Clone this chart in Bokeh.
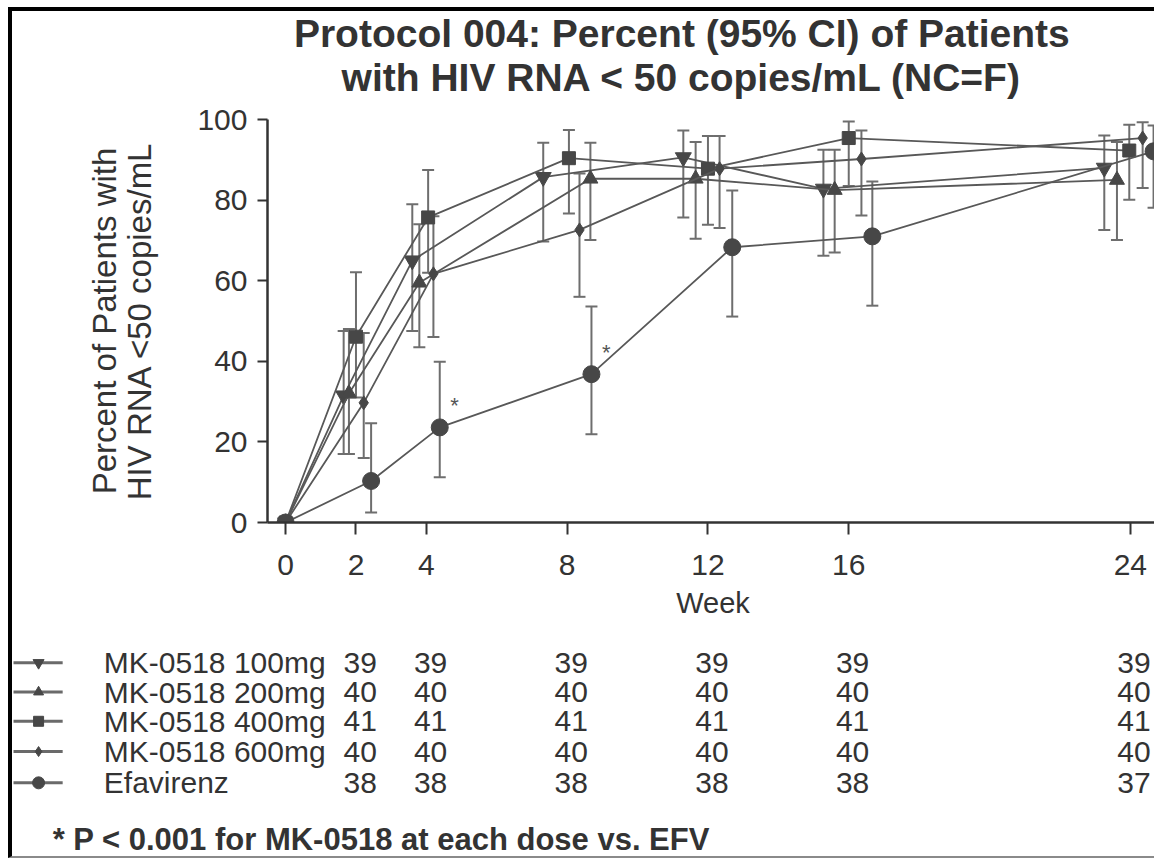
from bokeh.plotting import figure
from bokeh.layouts import column
from bokeh.models import (Range1d, ColumnDataSource, Whisker, TeeHead, Label, FixedTicker)
from bokeh.core.properties import value
from bokeh.embed import file_html
from bokeh.resources import INLINE

# ---------------- data ----------------
weeks = [0, 2, 4, 8, 12, 16, 24]
names = ["MK-0518 100mg", "MK-0518 200mg", "MK-0518 400mg", "MK-0518 600mg", "Efavirenz"]

pct_100 = [0, 31.5, 65.0, 85.7, 90.6, 82.8, 88.0]
lo_100 = [0, 17.0, 47.5, 69.7, 75.7, 66.2, 72.6]
hi_100 = [0, 47.5, 79.0, 94.2, 97.3, 92.5, 96.0]

pct_200 = [0, 32.0, 59.5, 85.3, 85.3, 82.5, 85.0]
lo_200 = [0, 17.0, 43.5, 70.1, 70.4, 67.0, 70.1]
hi_200 = [0, 48.0, 74.0, 94.2, 94.4, 92.5, 94.4]

pct_400 = [0, 46.1, 75.7, 90.4, 87.8, 95.4, 92.3]
lo_400 = [0, 31.0, 62.0, 76.7, 73.9, 83.5, 80.1]
hi_400 = [0, 62.1, 87.5, 97.4, 95.9, 99.5, 98.7]

pct_600 = [0, 29.7, 61.7, 72.6, 87.8, 90.2, 95.4]
lo_600 = [0, 16.0, 46.0, 56.0, 73.1, 76.2, 83.0]
hi_600 = [0, 47.0, 76.0, 86.6, 95.9, 97.3, 99.3]

pct_efv = [0, 10.3, 23.6, 36.8, 68.3, 71.0, 92.1]
lo_efv = [0, 2.5, 11.2, 21.9, 51.1, 53.8, 78.1]
hi_efv = [0, 24.6, 39.9, 53.6, 82.4, 84.6, 98.5]

count_weeks = [2, 4, 8, 12, 16, 24]
n_100 = [39, 39, 39, 39, 39, 39]
n_200 = [40, 40, 40, 40, 40, 40]
n_400 = [41, 41, 41, 41, 41, 41]
n_600 = [40, 40, 40, 40, 40, 40]
n_efv = [38, 38, 38, 38, 38, 37]

sig_weeks = [4, 8]          # weeks marked * (P < 0.001 vs EFV)
y_ticks = [0, 20, 40, 60, 80, 100]

title1 = "Protocol 004: Percent (95% CI) of Patients"
title2 = "with HIV RNA < 50 copies/mL (NC=F)"
ylabel = "Percent of Patients with\nHIV RNA <50 copies/mL"
xlabel = "Week"
footnote = "* P < 0.001 for MK-0518 at each dose vs. EFV"

# ---------------- layout / style (not data) ----------------
FONT = "Liberation Sans"
TXT = "#333333"
LINE = "#585858"
MARK = "#474747"
ERR = "#6e6e6e"

dodge = [
    [0, -0.35, -0.40, -0.68, -0.70, -0.72, -0.74],
    [0, -0.20, -0.20, 0.66, -0.35, -0.40, -0.38],
    [0, 0.00, 0.05, 0.05, 0.00, 0.00, -0.03],
    [0, 0.22, 0.20, 0.35, 0.33, 0.36, 0.35],
    [0, 0.43, 0.38, 0.69, 0.69, 0.67, 0.66],
]
markers = ["inverted_triangle", "triangle", "square", "diamond", "circle"]
msizes = [16, 15, 13, 14, 17]
leg_sizes = [11, 10, 10, 10, 12]

# page geometry (px): x of week 0 and px per week, canvas edges
X0, PXW = 285.0, 35.04
def wk(px):
    return (px - X0) / PXW

FIG_W = 1146
CANVAS_L, CANVAS_R = 12, 1154
FRAME_L = 267
T_TOP, T_BOT = 11, 100         # title canvas
M_TOP, M_BOT = 100, 630        # main canvas
FRAME_T, FRAME_B = 119, 522
B_TOP, B_BOT = 630, 856        # table canvas

def no_align(f):
    if "frame_align" in f.properties():
        f.frame_align = False
    return f

def blank_fig(h, top, bot, xr, styles):
    f = figure(width=FIG_W, height=h, output_backend="svg", toolbar_location=None,
               x_range=xr, y_range=Range1d(bot, top),
               min_border_left=0, min_border_right=0, min_border_top=0, min_border_bottom=0,
               x_axis_location=None, y_axis_location=None)
    f.grid.visible = False
    f.outline_line_color = None
    f.styles = styles
    return no_align(f)

# ---------- title figure ----------
ft = blank_fig(T_BOT - T_TOP + 4, T_TOP, T_BOT, Range1d(CANVAS_L, CANVAS_R),
               {"border-left": "4px solid #000000", "border-top": "4px solid #000000"})
tsrc = ColumnDataSource(dict(x=[679, 679], y=[32, 74], t=[title1, title2]))
ft.text("x", "y", text="t", source=tsrc, text_align="center", text_baseline="middle",
        text_font=value(FONT), text_font_style="bold", text_font_size=value("39px"),
        text_color=TXT)

# ---------- main chart ----------
p = figure(width=FIG_W, height=M_BOT - M_TOP, output_backend="svg", toolbar_location=None,
           x_range=Range1d(wk(FRAME_L), wk(CANVAS_R)), y_range=Range1d(0, 100),
           min_border_left=FRAME_L - CANVAS_L, min_border_right=0,
           min_border_top=FRAME_T - M_TOP, min_border_bottom=M_BOT - FRAME_B)
no_align(p)
p.styles = {"border-left": "4px solid #000000"}
p.outline_line_color = None
p.xgrid.visible = False
p.ygrid.visible = False

p.xaxis.ticker = FixedTicker(ticks=weeks)
p.yaxis.ticker = FixedTicker(ticks=y_ticks)
for ax in (p.xaxis, p.yaxis):
    ax.axis_line_color = "#333333"
    ax.axis_line_width = 2.5
    ax.major_tick_line_color = "#333333"
    ax.major_tick_line_width = 2
    ax.major_tick_in = 0
    ax.minor_tick_line_color = None
    ax.major_label_text_font = FONT
    ax.major_label_text_font_size = "30px"
    ax.major_label_text_color = TXT
    ax.axis_label_text_font = FONT
    ax.axis_label_text_font_style = "normal"
    ax.axis_label_text_color = TXT
p.xaxis.major_tick_out = 12
p.xaxis.major_label_standoff = 20
p.xaxis.axis_label = xlabel
p.xaxis.axis_label_text_font_size = "29px"
p.xaxis.axis_label_standoff = 9
p.yaxis.major_tick_out = 10
p.yaxis.major_label_standoff = 10
p.yaxis.axis_label = ylabel
p.yaxis.axis_label_text_font_size = "33px"
p.yaxis.axis_label_text_line_height = 0.97
p.yaxis.axis_label_standoff = 36

series = [
    (pct_100, lo_100, hi_100),
    (pct_200, lo_200, hi_200),
    (pct_400, lo_400, hi_400),
    (pct_600, lo_600, hi_600),
    (pct_efv, lo_efv, hi_efv),
]

xs_all = []
for i, (pct, lo, hi) in enumerate(series):
    xs = [w + d for w, d in zip(weeks, dodge[i])]
    xs_all.append(xs)
    src = ColumnDataSource(dict(x=xs, y=pct))
    err_src = ColumnDataSource(dict(x=xs[1:], lo=lo[1:], hi=hi[1:]))
    p.add_layout(Whisker(source=err_src, base="x", lower="lo", upper="hi", dimension="height",
                         line_color=ERR, line_width=2,
                         upper_head=TeeHead(size=12, line_color=ERR, line_width=2),
                         lower_head=TeeHead(size=12, line_color=ERR, line_width=2)))
    p.line("x", "y", source=src, line_color=LINE, line_width=1.8)
    p.scatter("x", "y", source=src, marker=markers[i], size=msizes[i],
              fill_color=MARK, line_color=MARK)

for w in sig_weeks:
    k = weeks.index(w)
    p.add_layout(Label(x=xs_all[4][k] + 0.42, y=pct_efv[k], y_offset=22, text="*",
                       text_align="center", text_baseline="middle",
                       text_font=FONT, text_font_size="22px", text_color="#555555"))

# ---------- table (n per visit) with legend symbols ----------
fb = blank_fig(B_BOT - B_TOP + 2, B_TOP, B_BOT, Range1d(wk(CANVAS_L), wk(CANVAS_R)),
               {"border-left": "4px solid #000000", "border-bottom": "2px solid #8a8a8a"})
row_y = [662, 691, 720, 750, 781]
counts = [n_100, n_200, n_400, n_600, n_efv]
for i, name in enumerate(names):
    yc = row_y[i]
    fb.segment(x0=wk(13), y0=yc, x1=wk(62), y1=yc, line_color="#6a6a6a", line_width=3)
    fb.scatter(x=[wk(38)], y=[yc], marker=markers[i], size=leg_sizes[i],
               fill_color=MARK, line_color=MARK)
    cx = [w + 0.1 for w in count_weeks]
    csrc = ColumnDataSource(dict(x=[wk(103)] + cx, y=[yc] * 7,
                                 t=[name] + [str(n) for n in counts[i]],
                                 a=["left"] + ["center"] * 6))
    fb.text("x", "y", text="t", source=csrc, text_align="a", text_baseline="middle",
            text_font=value(FONT), text_font_size=value("30px"), text_color=TXT)

fsrc = ColumnDataSource(dict(x=[wk(52)], y=[837], t=[footnote]))
fb.text("x", "y", text="t", source=fsrc, text_align="left", text_baseline="middle",
        text_font=value(FONT), text_font_style="bold", text_font_size=value("31px"),
        text_color=TXT)

layout = column(ft, p, fb, spacing=0, margin=(7, 0, 0, 8))
open("out.html", "w").write(file_html(layout, INLINE))
